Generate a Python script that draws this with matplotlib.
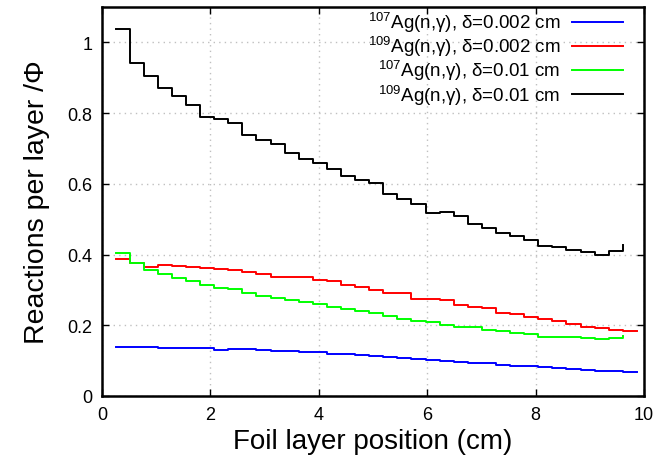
import numpy as np
import matplotlib
matplotlib.use('Agg')
import matplotlib.pyplot as plt

plt.rcParams['font.family'] = ['Liberation Sans', 'DejaVu Sans']
plt.rcParams['mathtext.fontset'] = 'custom'
plt.rcParams['mathtext.rm'] = 'Liberation Sans'
plt.rcParams['mathtext.it'] = 'Liberation Sans:italic'

# layer positions (cm): 0.26 cm steps starting at 0.25
x_thin = 0.25 + 0.26 * np.arange(38)   # delta = 0.002 cm runs
x_thick = 0.25 + 0.26 * np.arange(37)  # delta = 0.01 cm runs

ag107_thin = [0.139, 0.138, 0.138, 0.136, 0.137, 0.137, 0.135, 0.131, 0.133, 0.132,
              0.129, 0.126, 0.127, 0.124, 0.124, 0.120, 0.120, 0.116, 0.112, 0.109,
              0.108, 0.105, 0.103, 0.100, 0.097, 0.094, 0.092, 0.089, 0.086, 0.084,
              0.081, 0.079, 0.077, 0.074, 0.072, 0.071, 0.068, 0.068]
ag109_thin = [0.388, 0.376, 0.366, 0.370, 0.368, 0.365, 0.362, 0.360, 0.355, 0.350,
              0.345, 0.337, 0.337, 0.337, 0.328, 0.324, 0.315, 0.307, 0.299, 0.292,
              0.290, 0.275, 0.275, 0.272, 0.257, 0.252, 0.249, 0.236, 0.232, 0.222,
              0.218, 0.211, 0.204, 0.195, 0.191, 0.187, 0.184, 0.184]
ag107_thick = [0.403, 0.376, 0.357, 0.344, 0.333, 0.326, 0.314, 0.306, 0.302, 0.290,
               0.282, 0.277, 0.272, 0.265, 0.259, 0.252, 0.246, 0.239, 0.234, 0.225,
               0.218, 0.212, 0.208, 0.201, 0.196, 0.194, 0.186, 0.184, 0.179, 0.175,
               0.166, 0.168, 0.166, 0.164, 0.161, 0.163, 0.169]
ag109_thick = [1.037, 0.943, 0.905, 0.870, 0.847, 0.822, 0.790, 0.784, 0.773, 0.737,
               0.723, 0.712, 0.686, 0.671, 0.660, 0.643, 0.622, 0.611, 0.601, 0.571,
               0.558, 0.543, 0.517, 0.521, 0.508, 0.487, 0.475, 0.460, 0.452, 0.441,
               0.425, 0.421, 0.412, 0.408, 0.398, 0.410, 0.427]

labels = [r'$^{107}$Ag(n,γ), δ=0.002 cm',
          r'$^{109}$Ag(n,γ), δ=0.002 cm',
          r'$^{107}$Ag(n,γ), δ=0.01 cm',
          r'$^{109}$Ag(n,γ), δ=0.01 cm']

fig = plt.figure(figsize=(6.72, 4.6), dpi=100)
ax = fig.add_axes([0.1518, 0.137, 0.8065, 0.8456])

ax.step(x_thin, ag107_thin, where='post', color='#0000ff', lw=1.4, label=labels[0])
ax.step(x_thin, ag109_thin, where='post', color='#ff0000', lw=1.4, label=labels[1])
ax.step(x_thick, ag107_thick, where='post', color='#00ff00', lw=1.4, label=labels[2])
ax.step(x_thick, ag109_thick, where='post', color='black', lw=1.4, label=labels[3])

ax.set_xlim(0, 10)
ax.set_ylim(0, 1.1)
ax.set_xticks(np.arange(0, 11, 2))
ax.set_yticks([0, 0.2, 0.4, 0.6, 0.8, 1])
ax.set_yticklabels(['0', '0.2', '0.4', '0.6', '0.8', '1'])
ax.tick_params(direction='in', length=5, width=1, labelsize=13, top=True, right=True, pad=7)
ax.grid(True, color='#c0c0c0', linestyle=(0, (1, 3)), linewidth=1)
for s in ax.spines.values():
    s.set_linewidth(1.8)

ax.set_xlabel('Foil layer position (cm)', fontsize=20, labelpad=4)
ax.set_ylabel('Reactions per layer /Φ', fontsize=20.5, labelpad=12)

ax.legend(loc='upper right', bbox_to_anchor=(0.9613, 0.992), frameon=False,
          markerfirst=False, fontsize=13.5, handlelength=2.72, handletextpad=0.6,
          labelspacing=0.0, borderaxespad=0, borderpad=0)

fig.savefig('out.png', dpi=100)
